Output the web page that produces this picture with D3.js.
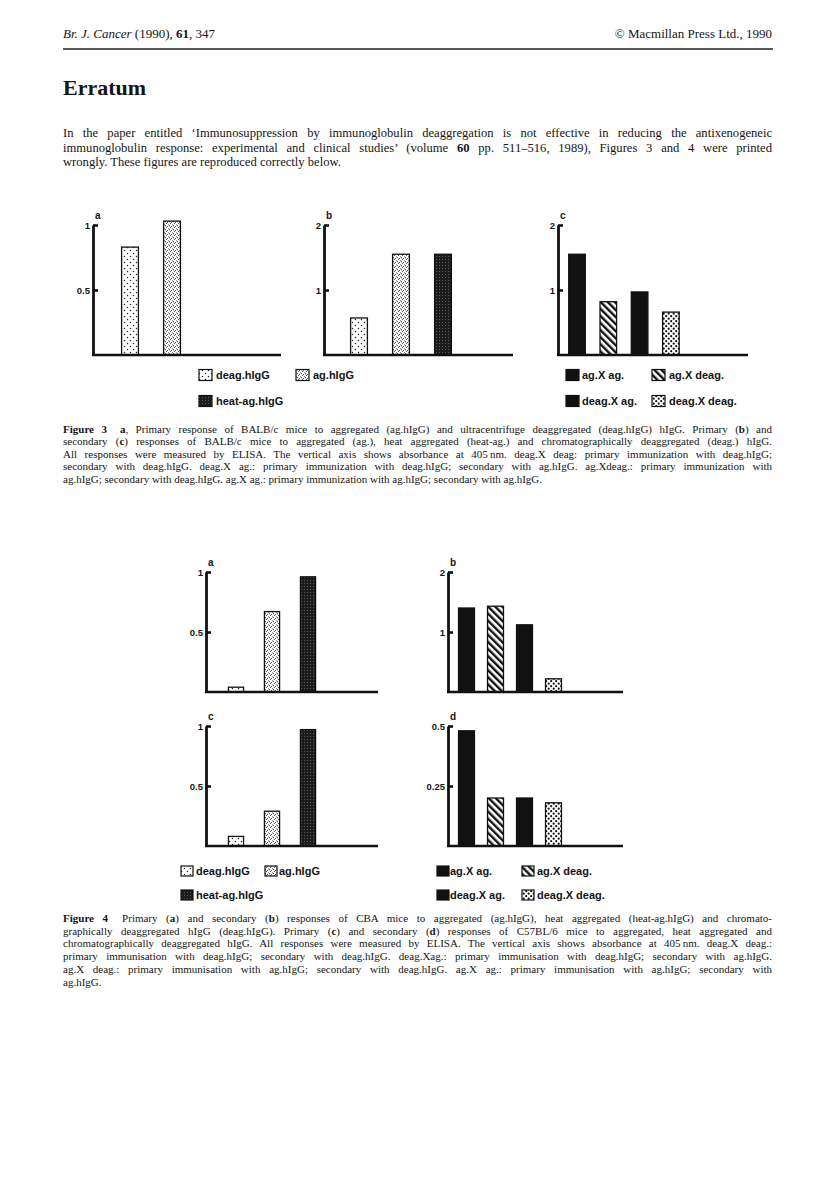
<!DOCTYPE html>
<html>
<head>
<meta charset="utf-8">
<script src="https://cdn.jsdelivr.net/npm/d3@7"></script>
<style>
  body { margin: 0; background: #fff; }
  svg { display: block; }
  .serif { font-family: "Liberation Serif", "DejaVu Serif", serif; fill: #151515; }
  .sans { font-family: "Liberation Sans", Arial, sans-serif; font-weight: bold; fill: #151515; }
</style>
</head>
<body>
<script>
// ---- data ----
var fig3aCategories = ["deag.hIgG", "ag.hIgG"];
var fig3aValues = [0.83, 1.03];
var fig3aTicks = [0.5, 1];

var fig3bCategories = ["deag.hIgG", "ag.hIgG", "heat-ag.hIgG"];
var fig3bValues = [0.57, 1.55, 1.55];
var fig3bTicks = [1, 2];

var fig3cCategories = ["ag.X ag.", "ag.X deag.", "deag.X ag.", "deag.X deag."];
var fig3cValues = [1.55, 0.82, 0.97, 0.66];
var fig3cTicks = [1, 2];

var fig4aCategories = ["deag.hIgG", "ag.hIgG", "heat-ag.hIgG"];
var fig4aValues = [0.04, 0.67, 0.96];
var fig4aTicks = [0.5, 1];

var fig4bCategories = ["ag.X ag.", "ag.X deag.", "deag.X ag.", "deag.X deag."];
var fig4bValues = [1.40, 1.43, 1.12, 0.22];
var fig4bTicks = [1, 2];

var fig4cCategories = ["deag.hIgG", "ag.hIgG", "heat-ag.hIgG"];
var fig4cValues = [0.08, 0.29, 0.97];
var fig4cTicks = [0.5, 1];

var fig4dCategories = ["ag.X ag.", "ag.X deag.", "deag.X ag.", "deag.X deag."];
var fig4dValues = [0.48, 0.20, 0.20, 0.18];
var fig4dTicks = [0.25, 0.5];

// legend rows (left group / right group)
var legendLeftRows = [["deag.hIgG", "ag.hIgG"], ["heat-ag.hIgG"]];
var legendRightRows = [["ag.X ag.", "ag.X deag."], ["deag.X ag.", "deag.X deag."]];

var introLines = [
  "In the paper entitled \u2018Immunosuppression by immunoglobulin deaggregation is not effective in reducing the antixenogeneic",
  "immunoglobulin response: experimental and clinical studies\u2019 (volume **60** pp. 511\u2013516, 1989), Figures 3 and 4 were printed",
  "wrongly. These figures are reproduced correctly below."
];

var fig3Caption = [
  "**Figure 3**\u2002 **a**, Primary response of BALB/c mice to aggregated (ag.hIgG) and ultracentrifuge deaggregated (deag.hIgG) hIgG. Primary (**b**) and",
  "secondary (**c**) responses of BALB/c mice to aggregated (ag.), heat aggregated (heat-ag.) and chromatographically deaggregated (deag.) hIgG.",
  "All responses were measured by ELISA. The vertical axis shows absorbance at 405\u2009nm. deag.X deag: primary immunization with deag.hIgG;",
  "secondary with deag.hIgG. deag.X ag.: primary immunization with deag.hIgG; secondary with ag.hIgG. ag.Xdeag.: primary immunization with",
  "ag.hIgG; secondary with deag.hIgG. ag.X ag.: primary immunization with ag.hIgG; secondary with ag.hIgG."
];

var fig4Caption = [
  "**Figure 4**\u2002 Primary (**a**) and secondary (**b**) responses of CBA mice to aggregated (ag.hIgG), heat aggregated (heat-ag.hIgG) and chromato-",
  "graphically deaggregated hIgG (deag.hIgG). Primary (**c**) and secondary (**d**) responses of C57BL/6 mice to aggregated, heat aggregated and",
  "chromatographically deaggregated hIgG. All responses were measured by ELISA. The vertical axis shows absorbance at 405\u2009nm. deag.X deag.:",
  "primary immunisation with deag.hIgG; secondary with deag.hIgG. deag.Xag.: primary immunisation with deag.hIgG; secondary with ag.hIgG.",
  "ag.X deag.: primary immunisation with ag.hIgG; secondary with deag.hIgG. ag.X ag.: primary immunisation with ag.hIgG; secondary with",
  "ag.hIgG."
];

// fill for each category
var fillFor = {
  "deag.hIgG": "url(#p-deag)",
  "ag.hIgG": "url(#p-ag)",
  "heat-ag.hIgG": "url(#p-heat)",
  "ag.X ag.": "#111",
  "ag.X deag.": "url(#p-stripe)",
  "deag.X ag.": "#111",
  "deag.X deag.": "url(#p-dd)"
};

var W = 816, H = 1190;
var textLeft = 63, textRight = 772;

var svg = d3.select("body").append("svg").attr("width", W).attr("height", H);
svg.append("rect").attr("width", W).attr("height", H).attr("fill", "#fff");

// ---- patterns ----
var defs = svg.append("defs");

var pDeag = defs.append("pattern").attr("id", "p-deag").attr("patternUnits", "userSpaceOnUse")
  .attr("width", 6).attr("height", 6);
pDeag.append("rect").attr("width", 6).attr("height", 6).attr("fill", "#fff");
pDeag.append("circle").attr("cx", 1.5).attr("cy", 1.5).attr("r", 0.75).attr("fill", "#222");
pDeag.append("circle").attr("cx", 4.5).attr("cy", 4.5).attr("r", 0.75).attr("fill", "#222");

var pAg = defs.append("pattern").attr("id", "p-ag").attr("patternUnits", "userSpaceOnUse")
  .attr("width", 4).attr("height", 4);
pAg.append("rect").attr("width", 4).attr("height", 4).attr("fill", "#fff");
pAg.append("path").attr("d", "M0.3,0.6 L2,2.2 M2.2,3.8 L3.8,2.2")
  .attr("stroke", "#111").attr("stroke-width", 0.9).attr("fill", "none");

var pHeat = defs.append("pattern").attr("id", "p-heat").attr("patternUnits", "userSpaceOnUse")
  .attr("width", 3).attr("height", 3);
pHeat.append("rect").attr("width", 3).attr("height", 3).attr("fill", "#1c1c1c");
pHeat.append("rect").attr("x", 1).attr("y", 1).attr("width", 1).attr("height", 1).attr("fill", "#5a5a5a");

var pStripe = defs.append("pattern").attr("id", "p-stripe").attr("patternUnits", "userSpaceOnUse")
  .attr("width", 5).attr("height", 5).attr("patternTransform", "rotate(-45)");
pStripe.append("rect").attr("width", 5).attr("height", 5).attr("fill", "#fff");
pStripe.append("rect").attr("width", 2.4).attr("height", 5).attr("fill", "#111");

var pDD = defs.append("pattern").attr("id", "p-dd").attr("patternUnits", "userSpaceOnUse")
  .attr("width", 5).attr("height", 5);
pDD.append("rect").attr("width", 5).attr("height", 5).attr("fill", "#fff");
pDD.append("circle").attr("cx", 1.2).attr("cy", 1.2).attr("r", 1.1).attr("fill", "#111");
pDD.append("circle").attr("cx", 3.7).attr("cy", 3.7).attr("r", 1.1).attr("fill", "#111");

// ---- header ----
var hdr = svg.append("text").attr("class", "serif").attr("x", textLeft).attr("y", 38).attr("font-size", 13);
hdr.append("tspan").attr("font-style", "italic").text("Br. J. Cancer");
hdr.append("tspan").text(" (1990), ");
hdr.append("tspan").attr("font-weight", "bold").text("61");
hdr.append("tspan").text(", 347");

svg.append("text").attr("class", "serif").attr("x", textRight).attr("y", 38).attr("font-size", 13)
  .attr("text-anchor", "end").text("\u00a9 Macmillan Press Ltd., 1990");

svg.append("line").attr("x1", textLeft).attr("x2", textRight + 1).attr("y1", 49).attr("y2", 49)
  .attr("stroke", "#222").attr("stroke-width", 1.4);

svg.append("text").attr("class", "serif").attr("x", textLeft).attr("y", 95)
  .attr("font-size", 22).attr("font-weight", "bold").text("Erratum");

// draws lines of text with **bold** markup, justified except the last line
function drawParagraph(lines, y0, lineH, size) {
  lines.forEach(function (line, i) {
    var t = svg.append("text").attr("class", "serif").attr("x", textLeft)
      .attr("y", y0 + i * lineH).attr("font-size", size);
    line.split("**").forEach(function (part, j) {
      if (part === "") return;
      var ts = t.append("tspan").text(part);
      if (j % 2 === 1) ts.attr("font-weight", "bold");
    });
    if (i < lines.length - 1) {
      var len = t.node().getComputedTextLength();
      var spaces = line.split(" ").length - 1;
      if (spaces > 0) t.attr("word-spacing", (textRight - textLeft - len) / spaces);
    }
  });
}

drawParagraph(introLines, 137, 14.5, 12.6);

// ---- panels ----
var panels = [
  { label: "a", cats: fig3aCategories, vals: fig3aValues, ticks: fig3aTicks, axisX: 93, right: 281, base: 355, top: 225, step: 42, offset: 37, pad: 0.6 },
  { label: "b", cats: fig3bCategories, vals: fig3bValues, ticks: fig3bTicks, axisX: 324, right: 513, base: 355, top: 225, step: 42, offset: 35, pad: 0.6 },
  { label: "c", cats: fig3cCategories, vals: fig3cValues, ticks: fig3cTicks, axisX: 558, right: 748, base: 355, top: 225, step: 31.3, offset: 19, pad: 0.47 },
  { label: "a", cats: fig4aCategories, vals: fig4aValues, ticks: fig4aTicks, axisX: 206, right: 378, base: 692, top: 572, step: 36, offset: 30, pad: 0.58 },
  { label: "b", cats: fig4bCategories, vals: fig4bValues, ticks: fig4bTicks, axisX: 448, right: 623, base: 692, top: 572, step: 29, offset: 18.5, pad: 0.45 },
  { label: "c", cats: fig4cCategories, vals: fig4cValues, ticks: fig4cTicks, axisX: 206, right: 378, base: 846, top: 726, step: 36, offset: 30, pad: 0.58 },
  { label: "d", cats: fig4dCategories, vals: fig4dValues, ticks: fig4dTicks, axisX: 448, right: 623, base: 846, top: 726, step: 29, offset: 18.5, pad: 0.45 }
];

panels.forEach(function (p) {
  var yScale = d3.scaleLinear()
    .domain([0, d3.max(p.ticks)])
    .range([p.base, p.top]);
  var left = p.axisX + p.offset - p.step / 2;
  var xScale = d3.scaleBand()
    .domain(p.cats)
    .range([left, left + p.step * p.cats.length])
    .paddingInner(p.pad)
    .paddingOuter(p.pad / 2);

  var g = svg.append("g");

  // bars
  g.selectAll("rect.bar")
    .data(p.cats.map(function (c, i) { return { cat: c, v: p.vals[i] }; }))
    .join("rect")
    .attr("class", "bar")
    .attr("x", function (d) { return xScale(d.cat); })
    .attr("width", xScale.bandwidth())
    .attr("y", function (d) { return yScale(d.v); })
    .attr("height", function (d) { return yScale(0) - yScale(d.v); })
    .attr("fill", function (d) { return fillFor[d.cat]; })
    .attr("stroke", "#111")
    .attr("stroke-width", 1.3);

  // baseline
  g.append("line")
    .attr("x1", p.axisX - 1).attr("x2", p.right)
    .attr("y1", yScale(0)).attr("y2", yScale(0))
    .attr("stroke", "#111").attr("stroke-width", 2.6);

  // vertical axis, ticks point inward
  var yAxis = d3.axisLeft(yScale)
    .tickValues(p.ticks)
    .tickSizeInner(-5)
    .tickSizeOuter(0)
    .tickPadding(3)
    .tickFormat(function (d) { return String(d); });
  var ax = g.append("g").attr("transform", "translate(" + p.axisX + ",0)").call(yAxis);
  ax.select(".domain").attr("stroke", "#111").attr("stroke-width", 2.8);
  ax.selectAll(".tick line").attr("stroke", "#111").attr("stroke-width", 2.6);
  ax.selectAll(".tick text")
    .attr("class", "sans")
    .attr("font-size", 9.5)
    .attr("fill", "#151515");

  // panel letter
  g.append("text").attr("class", "sans")
    .attr("x", p.axisX + 2).attr("y", p.top - 6)
    .attr("font-size", 10).text(p.label);
});

// ---- legends ----
function drawLegend(rows, swatchX, textX, y0, rowH, sw, sh) {
  rows.forEach(function (row, r) {
    row.forEach(function (cat, k) {
      var y = y0 + r * rowH;
      svg.append("rect")
        .attr("x", swatchX[k]).attr("y", y - sh / 2)
        .attr("width", sw).attr("height", sh)
        .attr("fill", fillFor[cat]).attr("stroke", "#111").attr("stroke-width", 1.2);
      svg.append("text").attr("class", "sans")
        .attr("x", textX[k]).attr("y", y + 4)
        .attr("font-size", 11).text(cat);
    });
  });
}

drawLegend(legendLeftRows, [199, 296], [216, 313], 375, 26, 13, 11);
drawLegend(legendRightRows, [566, 652], [582, 669], 375, 26, 13, 11);
drawLegend(legendLeftRows, [181, 265], [196, 279], 871, 24, 12, 10);
drawLegend(legendRightRows, [437, 522], [450, 537], 871, 24, 12, 10);

// ---- captions ----
drawParagraph(fig3Caption, 433, 12.4, 11);
drawParagraph(fig4Caption, 922, 12.7, 11);
</script>
</body>
</html>
